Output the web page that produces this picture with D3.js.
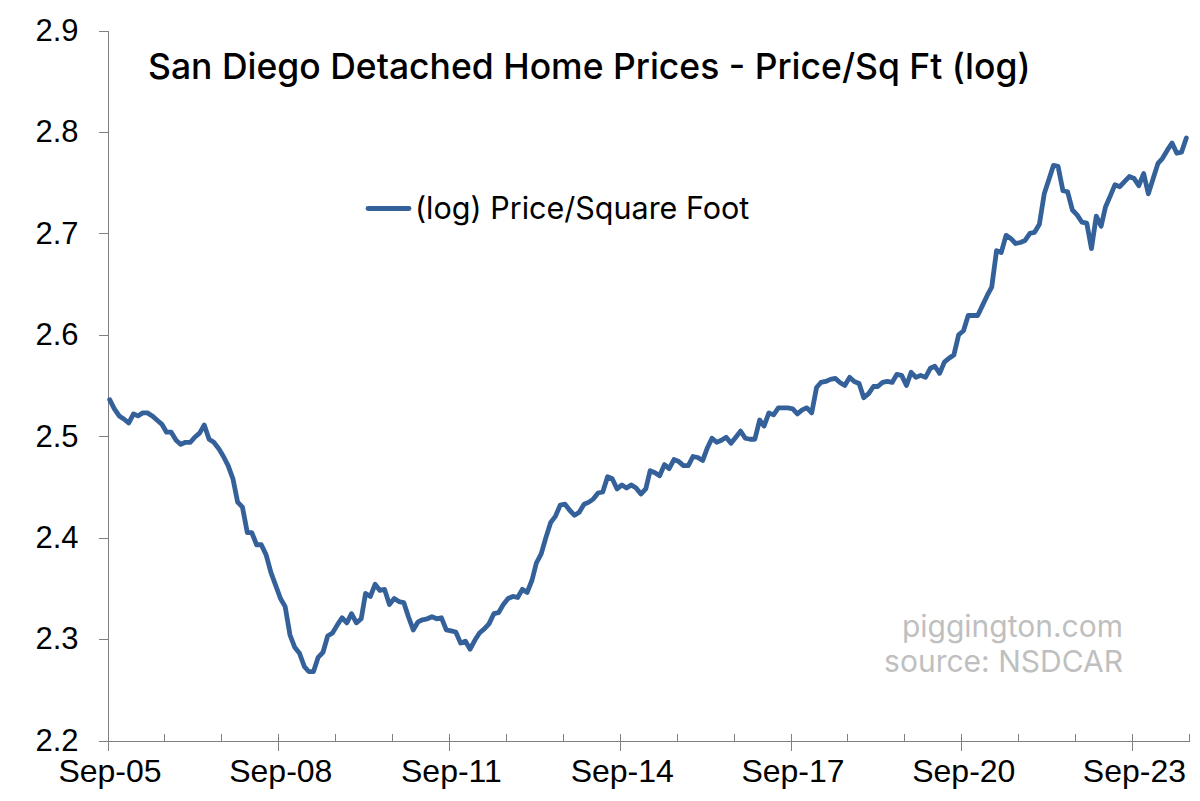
<!DOCTYPE html>
<html>
<head>
<meta charset="utf-8">
<script src="https://cdn.jsdelivr.net/npm/d3@7"></script>
<style>
  body { margin: 0; background: #fff; }
  .axis path, .axis line { stroke: #808080; shape-rendering: crispEdges; }
  .axis text { font-family: 'Liberation Sans', Arial, sans-serif; fill: #000; }
  .axis--x text { font-size: 32px; }
  .axis--y text { font-size: 31px; }
</style>
</head>
<body>
<svg width="1200" height="801"></svg>
<script>
// monthly series, first point Sep 2005, last Aug 2024
const startYear = 2005;
const startMonth = 8; // September (0-based)

const logPrice2005to2009 = [
  2.536, 2.527, 2.520, 2.517, 2.513, 2.522, 2.520, 2.523, 2.523, 2.520, 2.516, 2.512,
  2.504, 2.504, 2.496, 2.492, 2.494, 2.494, 2.499, 2.503, 2.511, 2.497, 2.494, 2.488,
  2.480, 2.471, 2.458, 2.435, 2.430, 2.405, 2.405, 2.393, 2.393, 2.383, 2.366, 2.353,
  2.340, 2.332, 2.304, 2.292, 2.286, 2.273, 2.268, 2.268, 2.282, 2.287, 2.303, 2.306,
];
const logPrice2009to2013 = [
  2.314, 2.321, 2.316, 2.325, 2.316, 2.320, 2.345, 2.342, 2.354, 2.348, 2.349, 2.334,
  2.340, 2.337, 2.336, 2.322, 2.309, 2.317, 2.319, 2.320, 2.322, 2.320, 2.321, 2.309,
  2.308, 2.307, 2.296, 2.298, 2.290, 2.299, 2.306, 2.310, 2.315, 2.325, 2.326, 2.334,
  2.340, 2.342, 2.341, 2.349, 2.346, 2.358, 2.375, 2.384, 2.400, 2.415, 2.421, 2.432,
];
const logPrice2013to2017 = [
  2.433, 2.427, 2.422, 2.425, 2.433, 2.435, 2.438, 2.444, 2.445, 2.460, 2.458, 2.448,
  2.452, 2.449, 2.452, 2.449, 2.443, 2.448, 2.466, 2.464, 2.461, 2.472, 2.468, 2.477,
  2.475, 2.471, 2.471, 2.480, 2.479, 2.476, 2.488, 2.498, 2.494, 2.496, 2.499, 2.493,
  2.499, 2.505, 2.498, 2.497, 2.497, 2.516, 2.510, 2.523, 2.521, 2.528, 2.528, 2.528,
];
const logPrice2017to2021 = [
  2.527, 2.522, 2.526, 2.528, 2.523, 2.548, 2.553, 2.554, 2.556, 2.557, 2.553, 2.550,
  2.558, 2.554, 2.552, 2.538, 2.542, 2.549, 2.549, 2.553, 2.554, 2.553, 2.561, 2.560,
  2.550, 2.563, 2.558, 2.560, 2.558, 2.567, 2.569, 2.562, 2.573, 2.577, 2.580, 2.600,
  2.604, 2.619, 2.619, 2.619, 2.629, 2.639, 2.647, 2.683, 2.681, 2.698, 2.695, 2.690,
];
const logPrice2021to2024 = [
  2.691, 2.693, 2.700, 2.701, 2.709, 2.739, 2.752, 2.767, 2.766, 2.742, 2.741, 2.723,
  2.718, 2.711, 2.710, 2.685, 2.717, 2.707, 2.726, 2.737, 2.748, 2.746, 2.751, 2.756,
  2.754, 2.747, 2.759, 2.739, 2.754, 2.769, 2.774, 2.782, 2.789, 2.779, 2.780, 2.794,
];

const yTicks = [2.2, 2.3, 2.4, 2.5, 2.6, 2.7, 2.8, 2.9];
const xTickLabels = ['Sep-05', 'Sep-08', 'Sep-11', 'Sep-14', 'Sep-17', 'Sep-20', 'Sep-23'];
const titleText = 'San Diego Detached Home Prices - Price/Sq Ft (log)';
const seriesName = '(log) Price/Square Foot';
const creditLines = ['piggington.com', 'source: NSDCAR'];

const values = [].concat(logPrice2005to2009, logPrice2009to2013, logPrice2013to2017,
  logPrice2017to2021, logPrice2021to2024);
const data = values.map((v, i) => ({ date: new Date(startYear, startMonth + i, 15), value: v }));

const svg = d3.select('svg');
const plot = { left: 107.5, right: 1189, top: 30.5, bottom: 740.5 };

const x = d3.scaleTime()
  .domain([new Date(2005, 8, 1), new Date(2024, 8, 1)])
  .range([plot.left, plot.right]);
const y = d3.scaleLinear().domain([2.2, 2.9]).range([plot.bottom, plot.top]);

const yearTicks = d3.range(2005, 2025).map(yr => new Date(yr, 8, 1));
const majorTicks = yearTicks.filter((d, i) => i % 3 === 0 && i < 19);
const fmt = d3.timeFormat('%b-%y');

// minor ticks point up, inside the plot
svg.append('g')
  .attr('class', 'axis')
  .attr('transform', `translate(0,${plot.bottom})`)
  .call(d3.axisTop(x).tickValues(yearTicks).tickSize(7).tickFormat(''))
  .call(g => g.select('.domain').remove());

// major ticks cross the axis
svg.append('g')
  .attr('class', 'axis axis--x')
  .attr('transform', `translate(0,${plot.bottom})`)
  .call(d3.axisBottom(x).tickValues(majorTicks).tickSize(10).tickSizeOuter(0)
    .tickPadding(9).tickFormat(d => xTickLabels[majorTicks.indexOf(d)] || fmt(d)))
  .call(g => g.selectAll('.tick line').attr('y1', -7))
  .call(g => g.selectAll('.tick text').attr('dx', 2));

svg.append('g')
  .attr('class', 'axis axis--y')
  .attr('transform', `translate(${plot.left},0)`)
  .call(d3.axisLeft(y).tickValues(yTicks).tickSize(9).tickSizeOuter(0)
    .tickPadding(20).tickFormat(d3.format('.1f')));

const line = d3.line()
  .x(d => x(d.date))
  .y(d => y(d.value));

svg.append('path')
  .datum(data)
  .attr('fill', 'none')
  .attr('stroke', '#35619a')
  .attr('stroke-width', 4.8)
  .attr('stroke-linejoin', 'round')
  .attr('stroke-linecap', 'round')
  .attr('d', line);

svg.append('text')
  .attr('x', 148)
  .attr('y', 79)
  .style('font-family', 'Inter, sans-serif')
  .style('font-size', '35.5px')
  .style('font-weight', 500)
  .text(titleText);

svg.append('line')
  .attr('x1', 368).attr('x2', 409)
  .attr('y1', 208.5).attr('y2', 208.5)
  .attr('stroke', '#35619a')
  .attr('stroke-width', 4.8)
  .attr('stroke-linecap', 'round');

svg.append('text')
  .attr('x', 415)
  .attr('y', 219)
  .style('font-family', 'Inter, sans-serif')
  .style('font-size', '30.5px')
  .text(seriesName);

svg.append('g')
  .selectAll('text')
  .data(creditLines)
  .join('text')
  .attr('x', 1123)
  .attr('y', (d, i) => 637 + i * 35)
  .attr('text-anchor', 'end')
  .style('font-family', 'Inter, sans-serif')
  .style('font-size', '30px')
  .style('fill', '#bfbfbf')
  .text(d => d);
</script>
</body>
</html>
